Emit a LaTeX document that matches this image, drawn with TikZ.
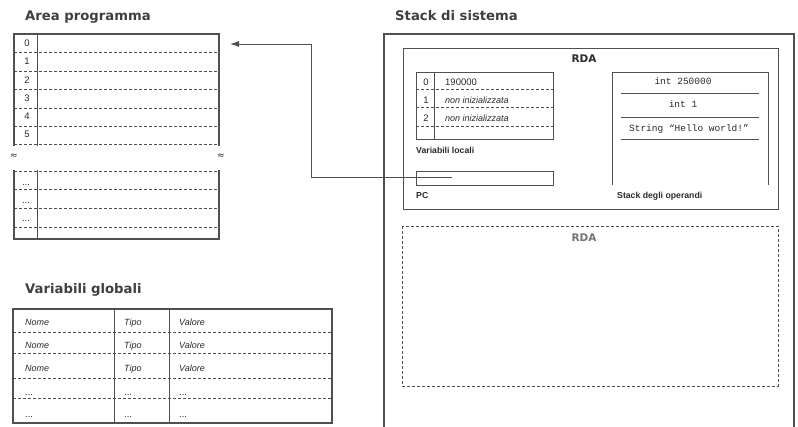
\documentclass[tikz,border=0pt]{standalone}
\usepackage{fontspec}
\setmainfont{Liberation Sans}
\newfontfamily\titlef{DejaVu Sans}
\newfontfamily\monof{Liberation Mono}
\usetikzlibrary{arrows.meta}
\definecolor{ln}{HTML}{505050}
\definecolor{tx}{HTML}{2A2A2A}
\begin{document}
\begin{tikzpicture}[x=1pt,y=-1pt,
  thick border/.style={draw=ln,line width=2.6pt},
  thin line/.style={draw=ln,line width=0.9pt},
  dash line/.style={draw=ln,line width=0.8pt,dash pattern=on 3pt off 2pt},
  title/.style={anchor=base west,inner sep=0pt,text=tx!90,font=\titlef\bfseries\fontsize{13.2}{15}\selectfont},
  lbl/.style={anchor=base,inner sep=0pt,text=tx,font=\fontsize{9.5}{10}\selectfont},
  ilbl/.style={anchor=base west,inner sep=0pt,text=tx,font=\itshape\fontsize{9}{10}\selectfont},
  blbl/.style={anchor=base west,inner sep=0pt,text=tx,font=\bfseries\fontsize{8.7}{10}\selectfont},
  mono/.style={anchor=base,inner sep=0pt,text=tx,font=\monof\fontsize{9.5}{11}\selectfont},
  rda/.style={anchor=base,inner sep=0pt,font=\titlef\bfseries\fontsize{10.5}{12}\selectfont},
  brk/.style={inner sep=0pt,text=tx,font=\titlef\fontsize{9}{10}\selectfont}
]
\useasboundingbox (0,0) rectangle (798,427);

% ---------------- Area programma
\node[title] (tap) at (25,21) {Area programma};
\foreach \yy in {52,71,89,108,126,144,171,189,208,227}
  \draw[dash line] (14,\yy) -- (219,\yy);
\draw[thin line] (37,34) -- (37,146);
\draw[thin line] (37,170) -- (37,239);
\draw[thick border] (14,146) -- (14,34) -- (219,34) -- (219,146);
\draw[thick border] (14,170) -- (14,239) -- (219,239) -- (219,170);
\node[brk] (b1) at (14,156) {≈};
\node[brk] (b2) at (221,156) {≈};
\node[lbl] (r0) at (27,46.5) {0};
\node[lbl] (r1) at (27,65) {1};
\node[lbl] (r2) at (27,83.5) {2};
\node[lbl] (r3) at (27,102) {3};
\node[lbl] (r4) at (27,120) {4};
\node[lbl] (r5) at (27,138) {5};
\node[lbl] (r6) at (26,186) {...};
\node[lbl] (r7) at (26,204) {...};
\node[lbl] (r8) at (26,222) {...};
\coordinate (ap0) at (230,44);

% ---------------- Variabili globali
\node[title] (tvg) at (25,294) {Variabili globali};
\foreach \yy in {332,353,378,398}
  \draw[dash line] (13,\yy) -- (332,\yy);
\draw[thin line] (114,309) -- (114,423);
\draw[thin line] (169,309) -- (169,423);
\draw[thick border] (13,309) rectangle (332,423);
\foreach \yy/\n in {325.5/1,348.5/2,371.5/3}{
  \node[ilbl] (nm\n) at (25,\yy) {Nome};
  \node[ilbl] (tp\n) at (124,\yy) {Tipo};
  \node[ilbl] (vl\n) at (179,\yy) {Valore};
}
\foreach \yy/\n in {396/4,418/5}{
  \node[lbl,anchor=base west] (nm\n) at (25,\yy) {...};
  \node[lbl,anchor=base west] (tp\n) at (124,\yy) {...};
  \node[lbl,anchor=base west] (vl\n) at (179,\yy) {...};
}

% ---------------- Stack di sistema
\node[title] (tss) at (395,21) {Stack di sistema};
\draw[thick border] (384,428) -- (384,34) -- (794,34) -- (794,428);

% RDA (active)
\draw[thin line] (403,48) rectangle (778,209);
\node[rda,text=tx] (rda1) at (584,63) {RDA};

% Variabili locali
\foreach \yy in {89,107,126}
  \draw[dash line] (416,\yy) -- (553,\yy);
\draw[thin line] (434,72) -- (434,139);
\draw[thin line] (416,72) rectangle (553,139);
\node[lbl] (l0) at (426,85.5) {0};
\node[lbl] (l1) at (426,103.5) {1};
\node[lbl] (l2) at (426,121.5) {2};
\node[lbl,anchor=base west] (v0) at (445,85.5) {190000};
\node[ilbl] (v1) at (445,103.5) {non inizializzata};
\node[ilbl] (v2) at (445,121.5) {non inizializzata};
\node[blbl] (tvl) at (416,154) {Variabili locali};

% PC
\draw[thin line] (416,171) rectangle (553,185);
\coordinate (pcstart) at (452,177);
\node[blbl] (tpc) at (416,199) {PC};

% Stack degli operandi
\draw[thin line] (612,185) -- (612,72) -- (768,72) -- (768,185);
\foreach \yy in {93,117,139}
  \draw[thin line] (621,\yy) -- (759,\yy);
\node[mono] (o1) at (683,85) {int 250000};
\node[mono] (o2) at (683,108) {int 1};
\node[mono] (o3) at (689,132) {String “Hello world!”};
\node[blbl] (tso) at (617,199) {Stack degli operandi};

% RDA (dashed)
\draw[dash line] (402,226) rectangle (778,386);
\node[rda,text=ln!80] (rda2) at (584,242) {RDA};

% PC connector
\coordinate (bend) at (311,177);
\draw[thin line,-{Latex[length=9pt,width=6pt]}] (pcstart) -- (bend) |- (ap0);
\end{tikzpicture}
\end{document}
